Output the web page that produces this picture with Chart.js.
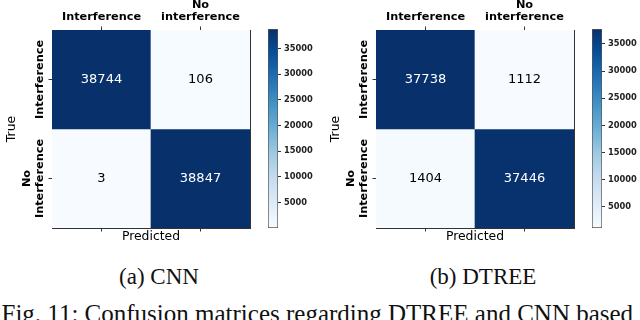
<!DOCTYPE html>
<html lang="en">
<head>
<meta charset="UTF-8">
<title>Confusion matrices</title>
<script src="https://cdn.jsdelivr.net/npm/chart.js"></script>
<style>
  html, body { margin: 0; padding: 0; background: #fff; }
  #page { position: relative; width: 640px; height: 320px; overflow: hidden; }
  canvas { position: absolute; top: 0; }
  .sub { position: absolute; width: 200px; text-align: center; font: 23px/23px "Liberation Serif", serif; color: #111; }
  #figcap { position: absolute; left: 1.5px; top: 300.5px; white-space: nowrap; font: 25px/25px "Liberation Serif", serif; color: #111; }
</style>
</head>
<body>
<div id="page">
  <canvas id="cnnMatrix" width="260" height="245" style="left:0"></canvas>
  <canvas id="cnnBar" width="58" height="245" style="left:262px"></canvas>
  <canvas id="dtreeMatrix" width="260" height="245" style="left:324px"></canvas>
  <canvas id="dtreeBar" width="54" height="245" style="left:586px"></canvas>
  <div class="sub" style="left:59px; top:265px">(a) CNN</div>
  <div class="sub" style="left:383px; top:265px">(b) DTREE</div>
  <div id="figcap">Fig. 11: Confusion matrices regarding DTREE and CNN based</div>
</div>
<script>
const colLabels = ['Interference', ['No', 'interference']];
const rowLabels = [['', 'Interference'], ['No', 'Interference']];
const cnnRow1 = [38744, 106];
const cnnRow2 = [3, 38847];
const dtreeRow1 = [37738, 1112];
const dtreeRow2 = [1404, 37446];
const barTicks = [5000, 10000, 15000, 20000, 25000, 30000, 35000];

// matplotlib "Blues"
const blues = ['#f7fbff', '#deebf7', '#c6dbef', '#9ecae1', '#6baed6', '#4292c6', '#2171b5', '#08519c', '#08306b'];

const family = "'DejaVu Sans', sans-serif";
Chart.defaults.font.family = family;
Chart.defaults.color = '#000';
const edge = '#333';
const tickFont = { size: 11.3, weight: 'bold', lineHeight: 1.12 };
const titleFont = { size: 12.4 };

function hexRgb(h) {
    return [1, 3, 5].map(i => parseInt(h.substr(i, 2), 16));
}

function colormap(t) {
    t = Math.min(1, Math.max(0, t)) * (blues.length - 1);
    const i = Math.min(Math.floor(t), blues.length - 2);
    const f = t - i;
    const a = hexRgb(blues[i]), b = hexRgb(blues[i + 1]);
    return 'rgb(' + a.map((c, k) => Math.round(c + (b[k] - c) * f)).join(',') + ')';
}

// rotated row labels are centred by crossAlign, which shifts by the widest line
const measure = document.createElement('canvas').getContext('2d');
measure.font = 'bold 11.3px ' + family;
const widest = Math.max(...rowLabels.flat().map(s => measure.measureText(s).width));
const rowPad = 52 - 3.5 - widest / 2 - 33.8;

const cellText = {
    id: 'cellText',
    afterDatasetsDraw(chart) {
        const ctx = chart.ctx;
        ctx.save();
        ctx.font = '13px ' + family;
        ctx.textAlign = 'center';
        ctx.textBaseline = 'middle';
        chart.data.datasets.forEach((ds, i) => {
            chart.getDatasetMeta(i).data.forEach((bar, j) => {
                const p = bar.getCenterPoint();
                ctx.fillStyle = ds.textColor[j];
                ctx.fillText(String(ds.values[j]), p.x, p.y);
            });
        });
        ctx.restore();
    }
};

function matrixChart(id, rows) {
    const all = rows.flat();
    const lo = Math.min(...all), hi = Math.max(...all);
    const axisGrid = { offset: false, drawOnChartArea: false, tickLength: 3.5, color: edge };
    return new Chart(document.getElementById(id), {
        type: 'bar',
        data: {
            labels: colLabels,
            datasets: rows.map((vals, r) => ({
                data: vals.map(() => [r, r + 1]),
                values: vals,
                backgroundColor: vals.map(v => colormap((v - lo) / (hi - lo))),
                textColor: vals.map(v => v > (lo + hi) / 2 ? '#fff' : '#000'),
                xAxisID: 'x',
                yAxisID: 'y',
                grouped: false,
                barPercentage: 1,
                categoryPercentage: 1,
                borderWidth: 0
            }))
        },
        options: {
            responsive: false,
            animation: false,
            layout: { padding: { right: 10 } },
            plugins: { legend: { display: false }, tooltip: { enabled: false } },
            scales: {
                x: {
                    type: 'category', position: 'top', offset: true,
                    grid: axisGrid, border: { color: edge },
                    ticks: { font: tickFont, color: '#000', padding: 2.7, maxRotation: 0 },
                    afterFit: s => { s.height = 30; }
                },
                x2: {
                    type: 'category', labels: colLabels, position: 'bottom', offset: true,
                    grid: axisGrid, border: { color: edge },
                    ticks: { display: false },
                    title: { display: true, text: 'Predicted', font: titleFont, color: '#000', padding: { top: 0, bottom: 0.9 } },
                    afterFit: s => { s.height = 17; }
                },
                y: {
                    type: 'linear', min: 0, max: 2, reverse: true,
                    afterBuildTicks: s => { s.ticks = rowLabels.map((_, i) => ({ value: i + 0.5 })); },
                    grid: axisGrid, border: { color: edge },
                    ticks: {
                        callback: (v, i) => rowLabels[i],
                        minRotation: 90, maxRotation: 90, crossAlign: 'center',
                        padding: rowPad, font: tickFont, color: '#000'
                    },
                    title: { display: true, text: 'True', font: titleFont, color: '#000', padding: { top: 4.6, bottom: 0 } },
                    afterFit: s => { s.width = 52; }
                },
                y2: {
                    type: 'linear', position: 'right',
                    grid: { drawOnChartArea: false, drawTicks: false },
                    border: { color: edge },
                    ticks: { display: false },
                    afterFit: s => { s.width = 0; }
                }
            }
        },
        plugins: [cellText]
    });
}

function gradient(chart) {
    const a = chart.chartArea;
    if (!a) return blues[0];
    const g = chart.ctx.createLinearGradient(0, a.bottom, 0, a.top);
    blues.forEach((c, i) => g.addColorStop(i / (blues.length - 1), c));
    return g;
}

function colorbarChart(id, rows) {
    const el = document.getElementById(id);
    const all = rows.flat();
    const lo = Math.min(...all), hi = Math.max(...all);
    return new Chart(el, {
        type: 'bar',
        data: {
            labels: [''],
            datasets: [{
                data: [[lo, hi]],
                backgroundColor: ctx => gradient(ctx.chart),
                borderColor: '#555',
                borderWidth: 1,
                borderSkipped: false,
                barPercentage: 1,
                categoryPercentage: 1
            }]
        },
        options: {
            responsive: false,
            animation: false,
            layout: { padding: { left: 6, top: 29, bottom: 17 } },
            plugins: { legend: { display: false }, tooltip: { enabled: false } },
            scales: {
                x: { display: false },
                y: {
                    position: 'right', min: lo, max: hi,
                    afterBuildTicks: s => { s.ticks = barTicks.map(v => ({ value: v })); },
                    grid: { drawOnChartArea: false, tickLength: 3, color: edge },
                    border: { display: false },
                    ticks: { callback: v => String(v), font: { size: 8.3, weight: 'bold' }, color: '#222', padding: 3 },
                    afterFit: s => { s.width = el.width - 16; }
                }
            }
        }
    });
}

matrixChart('cnnMatrix', [cnnRow1, cnnRow2]);
colorbarChart('cnnBar', [cnnRow1, cnnRow2]);
matrixChart('dtreeMatrix', [dtreeRow1, dtreeRow2]);
colorbarChart('dtreeBar', [dtreeRow1, dtreeRow2]);
</script>
</body>
</html>
